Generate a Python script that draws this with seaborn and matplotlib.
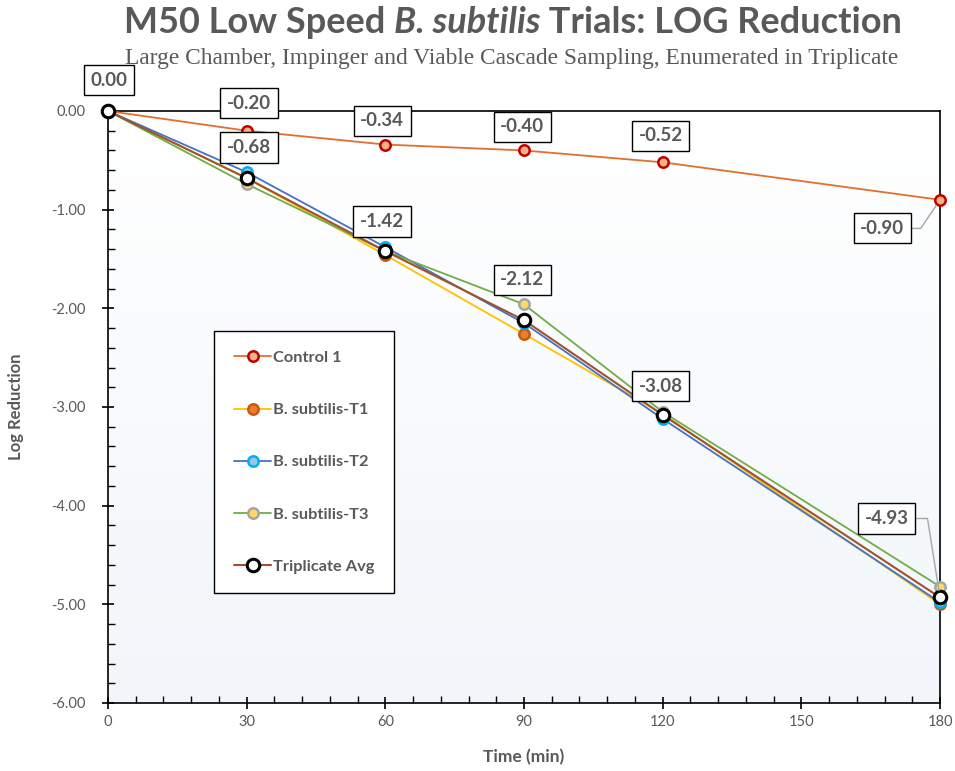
import numpy as np
import pandas as pd
import matplotlib
matplotlib.use("Agg")
import matplotlib.pyplot as plt
from matplotlib.ticker import MultipleLocator, FormatStrFormatter
from matplotlib.colors import LinearSegmentedColormap
import seaborn as sns

sns.set_theme(style="white")
plt.rcParams['font.family'] = ['Lato', 'DejaVu Sans']

time_min = [0, 30, 60, 90, 120, 180]
control_1 = [0.00, -0.20, -0.34, -0.40, -0.52, -0.90]
t1 = [0.00, -0.68, -1.46, -2.26, -3.07, -5.00]
t2 = [0.00, -0.62, -1.38, -2.15, -3.12, -4.98]
t3 = [0.00, -0.74, -1.42, -1.96, -3.05, -4.82]
triplicate_avg = [0.00, -0.68, -1.42, -2.12, -3.08, -4.93]

series_names = ["Control 1", "B. subtilis-T1", "B. subtilis-T2", "B. subtilis-T3", "Triplicate Avg"]
series_values = [control_1, t1, t2, t3, triplicate_avg]
line_colors = ["#E0702E", "#FFC000", "#4472C4", "#70AD47", "#A0522D"]
face_colors = ["#F4B183", "#ED7D31", "#9DC3E6", "#FFD966", "#FFFFFF"]
edge_colors = ["#C00000", "#C55A11", "#00B0F0", "#A5A5A5", "#000000"]

gray = "#595959"

fig = plt.figure(figsize=(9.55, 7.71), dpi=100)
ax = fig.add_axes([108/955, 1-703/771, 832/955, 592/771])

# gradient background
grad = np.linspace(0, 1, 256).reshape(-1, 1)
cmap = LinearSegmentedColormap.from_list("bg", ["#FFFFFF", "#F2F6FA"])
ax.imshow(grad, extent=[0, 180, -6, 0], aspect='auto', cmap=cmap, origin='upper', zorder=0)

for name, vals, lc, fc, ec in zip(series_names, series_values, line_colors, face_colors, edge_colors):
    df = pd.DataFrame({"Time": time_min, "LR": vals})
    is_avg = name == "Triplicate Avg"
    sns.lineplot(data=df, x="Time", y="LR", ax=ax, color=lc, lw=1.3 if not is_avg else 1.5,
                 marker='o', markersize=9 if is_avg else 7.5, markerfacecolor=fc,
                 markeredgecolor=ec, markeredgewidth=2.2 if is_avg else 1.8,
                 label=name, clip_on=False, zorder=5 if is_avg else 3)

ax.set_xlim(0, 180)
ax.set_ylim(-6, 0)
ax.xaxis.set_major_locator(MultipleLocator(30))
ax.xaxis.set_minor_locator(MultipleLocator(6))
ax.yaxis.set_major_locator(MultipleLocator(1))
ax.yaxis.set_minor_locator(MultipleLocator(0.2))
ax.yaxis.set_major_formatter(FormatStrFormatter('%.2f'))
ax.tick_params(axis='both', which='major', direction='inout', length=8, width=1.2, colors='black',
               labelcolor=gray, labelsize=10.5)
ax.tick_params(axis='both', which='minor', direction='in', length=5, width=1.0, colors='black')
ax.tick_params(axis='x', which='major', pad=5)
ax.tick_params(axis='y', which='major', pad=12)
ax.tick_params(axis='x', which='both', top=False, bottom=True)
ax.tick_params(axis='y', which='both', right=False, left=True)
for s in ax.spines.values():
    s.set_color('black')
    s.set_linewidth(1.2)

ax.set_xlabel("Time (min)", fontsize=12.5, fontweight='bold', color=gray, labelpad=14)
ax.set_ylabel("Log Reduction", fontsize=12, fontweight='bold', color=gray, labelpad=20)

leg = ax.legend(loc='upper left', bbox_to_anchor=(106/832, (703-331)/592), frameon=True,
                fancybox=False, edgecolor='black', framealpha=1, facecolor='white',
                labelspacing=2.3, handlelength=2.3, handletextpad=0.1, borderpad=1.2,
                borderaxespad=0, prop={'weight': 'bold', 'size': 11.8})
leg.get_frame().set_linewidth(1.0)
for t in leg.get_texts():
    t.set_color(gray)

bbox = dict(boxstyle='square,pad=0.35', fc='white', ec='black', lw=1.0)

def label(val, xy, xyt, angle_b=None):
    kw = dict(ha='center', va='center', fontsize=13.5, fontweight='bold', color=gray,
              bbox=bbox, annotation_clip=False, zorder=10)
    if angle_b is not None:
        kw['arrowprops'] = dict(arrowstyle='-', color='#A6A6A6', lw=1.0, shrinkA=0, shrinkB=5,
                                connectionstyle=f'angle,angleA=0,angleB={angle_b},rad=0')
    ax.annotate(f"{val:.2f}", xy=xy, xytext=xyt, textcoords='data', **kw)

ctrl_offsets = [(0.2, 0.31), (30.5, 0.08), (59.3, -0.10), (89.6, -0.16), (119.6, -0.25), (167.5, -1.19)]
avg_offsets = [None, (30.5, -0.37), (59.3, -1.12), (89.6, -1.71), (119.6, -2.79), (168.5, -4.13)]
for i, (x, v) in enumerate(zip(time_min, control_1)):
    label(v, (x, v), ctrl_offsets[i], angle_b=56 if i == 5 else None)
for i, (x, v) in enumerate(zip(time_min, triplicate_avg)):
    if avg_offsets[i] is None:
        continue
    label(v, (x, v), avg_offsets[i], angle_b=99 if i == 5 else None)

# Title with italic part
title_parts = [("M50 Low Speed ", 'normal'), ("B. subtilis", 'italic'), (" Trials: LOG Reduction", 'normal')]
renderer = fig.canvas.get_renderer()
texts = []
widths = []
for s, style in title_parts:
    t = fig.text(0, 0.971, s, ha='left', va='center', fontsize=26, fontweight='bold',
                 style=style, color=gray)
    widths.append(t.get_window_extent(renderer).width)
    texts.append(t)
total = sum(widths)
x0 = 513 - total / 2
for t, w in zip(texts, widths):
    t.set_x(x0 / fig.bbox.width)
    x0 += w

fig.text(512/955, 0.924, "Large Chamber, Impinger and Viable Cascade Sampling, Enumerated in Triplicate",
         ha='center', va='center', fontsize=16.8, color=gray, family='Liberation Serif')

fig.savefig("out.png", dpi=100)
